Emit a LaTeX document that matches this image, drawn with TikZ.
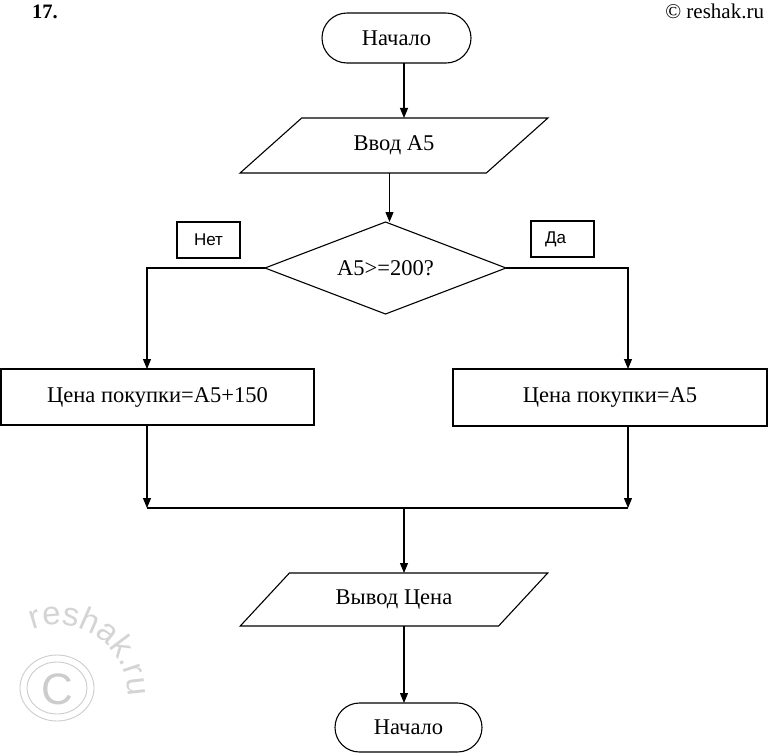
\documentclass[tikz,border=0pt]{standalone}
\usepackage{fontspec}
\setmainfont{Liberation Serif}
\newfontfamily\arialfont{Liberation Sans}
\usetikzlibrary{shapes.geometric,shapes.misc,arrows.meta,decorations.text}
\begin{document}
\begin{tikzpicture}[x=1pt,y=-1pt,
  every node/.style={inner sep=0pt, outer sep=0pt},
  ln/.style={line width=1.1pt},
  arr/.style={line width=1.1pt, -{Triangle[length=10pt,width=8pt]}},
  maintext/.style={font=\fontsize{22.5}{25}\selectfont},
  term/.style={draw, line width=1.1pt, rounded rectangle, maintext},
  iobox/.style={draw, line width=1.1pt, trapezium, trapezium left angle=35.5,
    trapezium right angle=144.5, trapezium stretches=true, maintext},
  procbox/.style={draw, line width=1.1pt, rectangle, maintext},
  decbox/.style={draw, line width=1.1pt, diamond, aspect=2.62, maintext},
  labelbox/.style={draw, line width=1.1pt, rectangle, font=\arialfont\fontsize{17}{19}\selectfont},
  wm/.style={draw=black!20, line width=0.9pt}
]
\useasboundingbox (0,0) rectangle (768,753);

% header texts
\node[anchor=base west, font=\bfseries\fontsize{20.5}{22}\selectfont] (num) at (32,18) {17.};
\node[anchor=base east, font=\fontsize{21}{24}\selectfont] (site) at (764,18) {© reshak.ru};

% watermark
\draw[wm] (57,688) ellipse[x radius=37, y radius=33];
\draw[wm] (57,688) ellipse[x radius=30, y radius=26];
\node[text=black!20, font=\arialfont\fontsize{44}{44}\selectfont] (wmc) at (57,689) {C};
\path[decorate, decoration={text along path,
  text={|\arialfont\fontsize{33}{33}\selectfont|reshak.ru}, text align=center,
  text color=black!17}]
  (58pt,-695pt) ++(118:70pt) arc[start angle=118, end angle=-8, radius=70pt];

% flowchart nodes
\node[term, minimum width=149, minimum height=50] (start) at (396.5,38) {Начало};
\node[iobox, minimum width=308, minimum height=55] (in) at (394,145.5) {Ввод А5};
\node[decbox, minimum width=241, minimum height=92] (dec) at (385.5,268) {А5>=200?};
\node[labelbox, minimum width=63, minimum height=36] (no) at (208.5,240) {Нет};
\node[labelbox, minimum width=63, minimum height=36] (yes) at (562.5,239) {Да\hspace*{14pt}};
\node[procbox, minimum width=313, minimum height=56] (left) at (157.5,397) {Цена покупки=А5+150};
\node[procbox, minimum width=314, minimum height=57] (right) at (610,397.5) {Цена покупки=А5};
\node[iobox, minimum width=308, minimum height=53] (out) at (394,599.5) {Вывод Цена};
\node[term, minimum width=147, minimum height=49] (end) at (408.5,727.5) {Начало};

% junction coordinates
\coordinate (jl) at (147,508);
\coordinate (jr) at (628,508);
\coordinate (jm) at (404,508);

% connectors
\draw[arr] ([xshift=7.5pt]start.south) -- ([xshift=7.5pt]start.south |- in.north);
\draw[arr] ([xshift=4pt]dec.north |- in.south) -- ([xshift=4pt]dec.north);
\draw[arr] (dec.west) -| ([xshift=-10.5pt]left.north);
\draw[arr] (dec.east) -| ([xshift=18pt]right.north);
\draw[arr] ([xshift=-10.5pt]left.south) -- (jl);
\draw[arr] ([xshift=18pt]right.south) -- (jr);
\draw[ln] (jl) -- (jr);
\draw[arr] (jm) -- (jm |- out.north);
\draw[arr] (jm |- out.south) -- (jm |- end.north);
\end{tikzpicture}
\end{document}
